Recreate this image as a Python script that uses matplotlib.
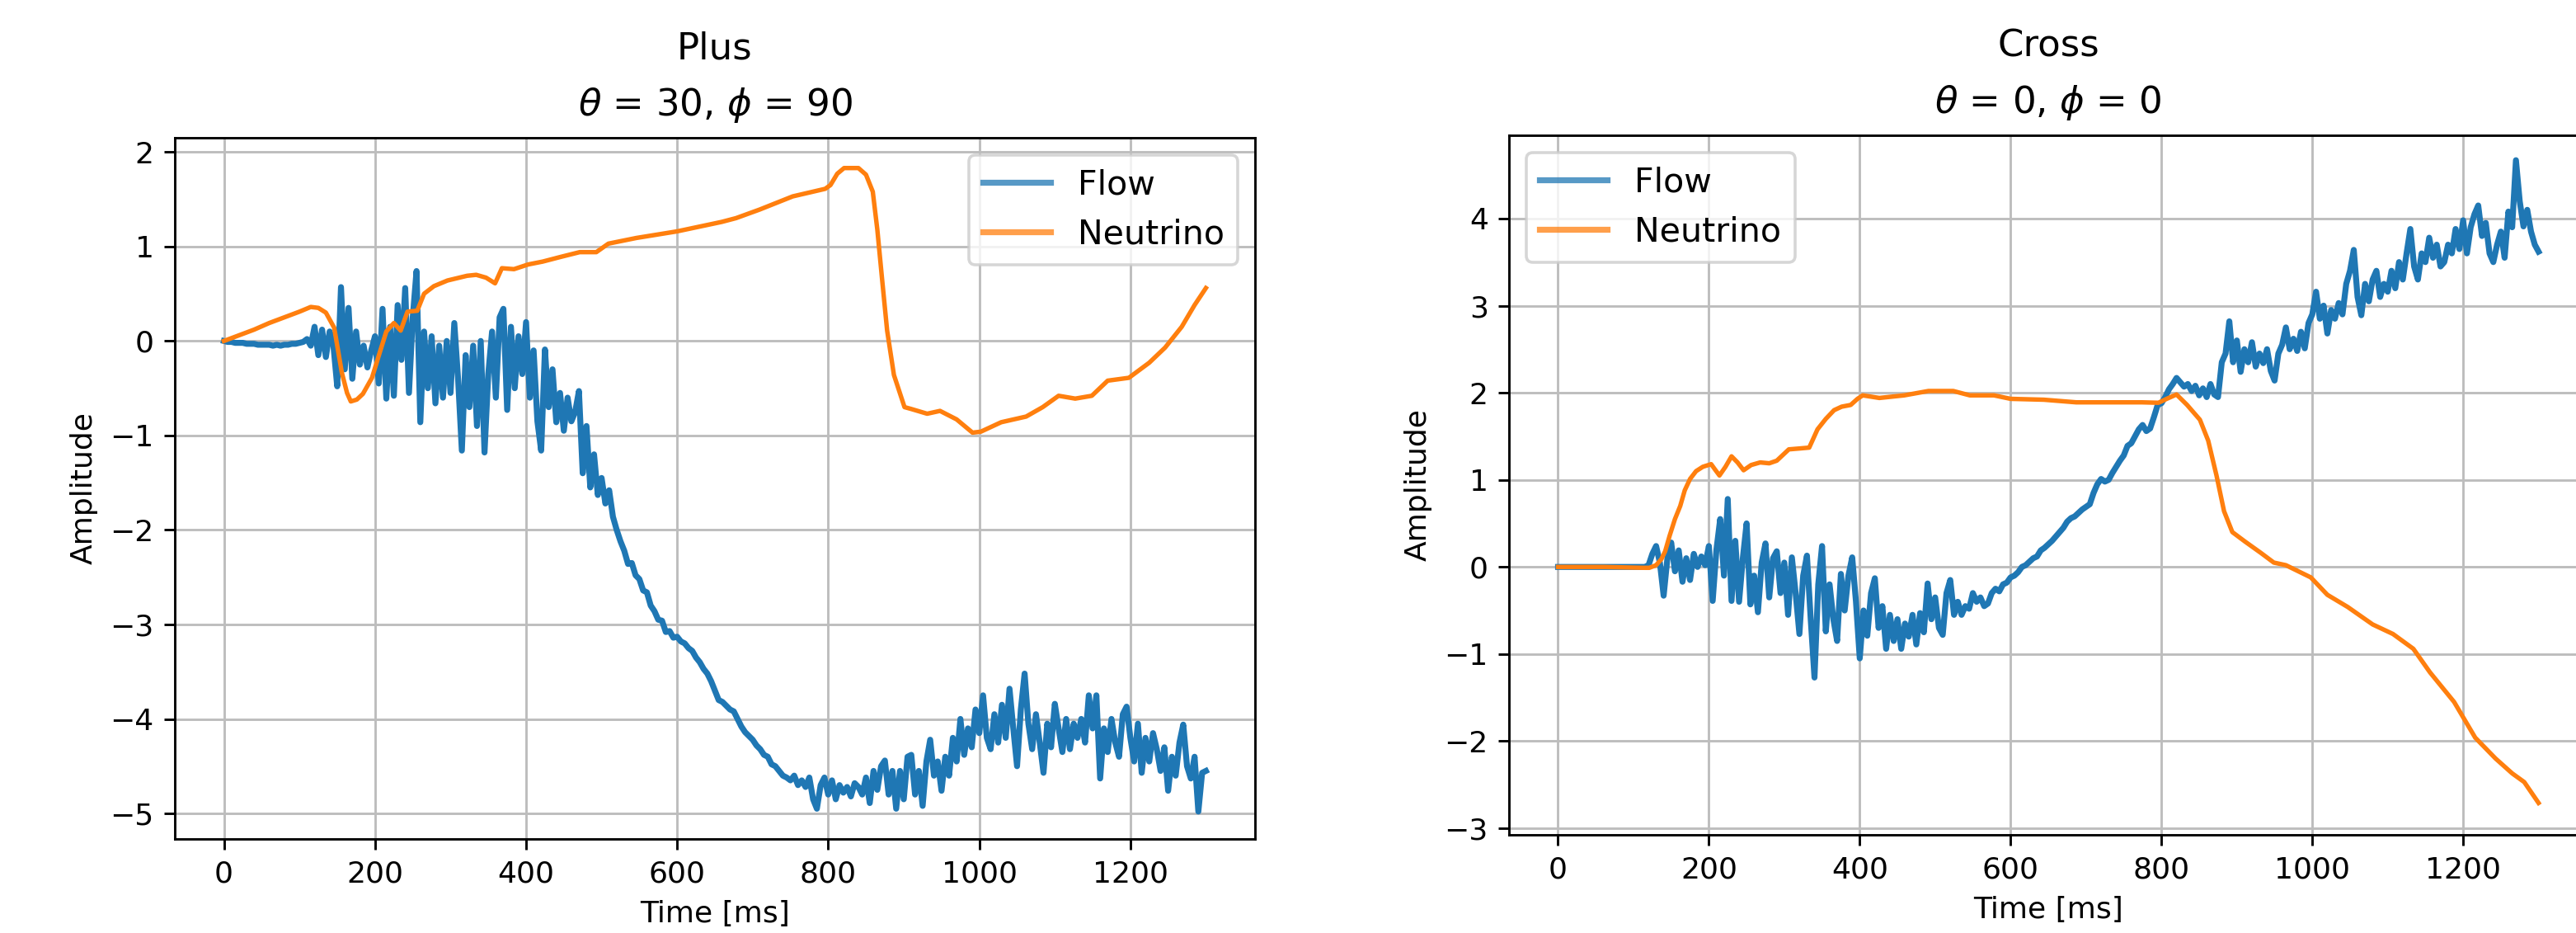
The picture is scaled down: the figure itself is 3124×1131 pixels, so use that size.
import numpy as np
import matplotlib
matplotlib.use("Agg")
import matplotlib.pyplot as plt

# ---------------- data ----------------
t_flow = np.arange(0, 1301, 5)  # ms

flow_plus = [
    # 0-95
    0.00, -0.01, -0.01, -0.02, -0.02, -0.02, -0.03, -0.03, -0.03, -0.04,
    -0.04, -0.04, -0.04, -0.05, -0.04, -0.05, -0.04, -0.04, -0.03, -0.03,
    # 100-195
    -0.02, -0.01, 0.02, -0.05, 0.15, -0.15, 0.12, -0.17, 0.10, -0.05,
    -0.48, 0.57, -0.30, 0.35, -0.40, 0.10, -0.25, -0.05, -0.28, -0.10,
    # 200-295
    0.05, -0.45, 0.34, -0.61, 0.15, -0.58, 0.38, -0.20, 0.56, -0.55,
    0.25, 0.74, -0.86, 0.10, -0.50, 0.05, -0.66, -0.05, -0.60, 0.00,
    # 300-395
    -0.55, 0.19, -0.40, -1.16, -0.15, -0.70, -0.05, -0.90, 0.00, -1.18,
    -0.35, 0.10, -0.60, 0.25, 0.34, -0.73, 0.15, -0.50, 0.05, -0.35,
    # 400-495
    0.20, -0.60, -0.10, -0.85, -1.16, -0.09, -0.70, -0.30, -0.86, -0.55,
    -0.95, -0.60, -0.85, -0.75, -0.53, -1.40, -0.90, -1.55, -1.20, -1.63,
    # 500-595
    -1.45, -1.72, -1.58, -1.86, -2.00, -2.12, -2.22, -2.36, -2.35, -2.48,
    -2.52, -2.64, -2.66, -2.80, -2.86, -2.95, -2.96, -3.08, -3.07, -3.14,
    # 600-695
    -3.13, -3.18, -3.20, -3.25, -3.28, -3.35, -3.40, -3.47, -3.52, -3.60,
    -3.70, -3.80, -3.82, -3.86, -3.90, -3.92, -4.00, -4.08, -4.14, -4.18,
    # 700-795
    -4.22, -4.28, -4.32, -4.38, -4.40, -4.48, -4.50, -4.55, -4.60, -4.62,
    -4.65, -4.60, -4.70, -4.65, -4.72, -4.62, -4.85, -4.95, -4.70, -4.62,
    # 800-895
    -4.80, -4.65, -4.85, -4.70, -4.78, -4.72, -4.82, -4.68, -4.72, -4.80,
    -4.62, -4.89, -4.55, -4.75, -4.50, -4.44, -4.80, -4.55, -4.95, -4.55,
    # 900-995
    -4.85, -4.40, -4.38, -4.80, -4.55, -4.92, -4.45, -4.22, -4.60, -4.45,
    -4.76, -4.40, -4.60, -4.20, -4.45, -4.00, -4.38, -4.10, -4.30, -3.90,
    # 1000-1095
    -4.15, -3.75, -4.20, -4.32, -3.95, -4.25, -3.85, -4.20, -3.68, -4.10,
    -4.50, -3.90, -3.52, -4.05, -4.32, -3.95, -4.25, -4.57, -4.05, -4.30,
    # 1100-1195
    -3.84, -4.10, -4.35, -4.00, -4.32, -4.05, -4.20, -4.00, -4.25, -3.75,
    -4.10, -3.75, -4.63, -4.10, -4.35, -4.00, -4.25, -4.40, -3.95, -3.87,
    # 1200-1300
    -4.20, -4.45, -4.05, -4.57, -4.20, -4.45, -4.15, -4.32, -4.55, -4.30,
    -4.76, -4.40, -4.60, -4.25, -4.06, -4.50, -4.63, -4.40, -4.98, -4.57,
    -4.55,
]

t_nu_plus = [0, 20, 40, 60, 80, 100, 115, 125, 135, 146, 156, 163, 168, 176, 184,
             196, 206, 215, 225, 234, 243, 256, 265, 278, 296, 322, 334, 347, 359,
             368, 384, 403, 422, 446, 471, 493, 509, 546, 600, 659, 678, 709, 753,
             796, 803, 812, 821, 840, 850, 859, 865, 871, 878, 887, 901, 910, 931,
             948, 970, 991, 1002, 1029, 1062, 1084, 1105, 1127, 1149, 1170, 1198,
             1225, 1246, 1268, 1285, 1300]
nu_plus = [0.00, 0.06, 0.12, 0.19, 0.25, 0.31, 0.36, 0.35, 0.30, 0.14, -0.33, -0.55,
           -0.64, -0.62, -0.56, -0.39, -0.13, 0.10, 0.19, 0.11, 0.31, 0.32, 0.50,
           0.58, 0.64, 0.69, 0.70, 0.67, 0.61, 0.77, 0.76, 0.81, 0.84, 0.89, 0.94,
           0.94, 1.03, 1.09, 1.16, 1.26, 1.30, 1.39, 1.53, 1.61, 1.65, 1.77, 1.83,
           1.83, 1.76, 1.58, 1.18, 0.68, 0.11, -0.36, -0.70, -0.72, -0.77, -0.74,
           -0.83, -0.97, -0.96, -0.86, -0.80, -0.70, -0.58, -0.61, -0.58, -0.42,
           -0.39, -0.23, -0.07, 0.15, 0.38, 0.56]

flow_cross = [
    # 0-115
    0.00, 0.00, 0.00, 0.00, 0.00, 0.00, 0.00, 0.00, 0.00, 0.00,
    0.00, 0.00, 0.00, 0.00, 0.00, 0.00, 0.00, 0.00, 0.00, 0.00,
    0.00, 0.00, 0.00, 0.00,
    # 120-195
    0.02, 0.15, 0.24, 0.05, -0.33, 0.10, 0.28, -0.05, 0.19, -0.17,
    0.10, -0.15, 0.15, 0.00, 0.12, 0.02,
    # 200-295
    0.24, -0.39, 0.20, 0.55, -0.10, 0.78, -0.39, 0.30, -0.40, 0.10,
    0.50, -0.43, -0.10, -0.52, 0.05, 0.27, -0.35, 0.10, 0.18, -0.30,
    # 300-395
    0.05, -0.55, 0.11, -0.30, -0.77, -0.10, 0.13, -0.60, -1.27, -0.20,
    0.24, -0.74, -0.20, -0.60, -0.85, -0.08, -0.50, -0.10, 0.11, -0.40,
    # 400-495
    -1.05, -0.50, -0.79, -0.30, -0.13, -0.70, -0.45, -0.94, -0.55, -0.85,
    -0.60, -0.94, -0.65, -0.80, -0.55, -0.89, -0.53, -0.75, -0.19, -0.60,
    # 500-595
    -0.35, -0.70, -0.78, -0.30, -0.15, -0.55, -0.40, -0.55, -0.45, -0.48,
    -0.30, -0.40, -0.35, -0.45, -0.42, -0.30, -0.25, -0.28, -0.20, -0.18,
    # 600-695
    -0.12, -0.10, -0.06, 0.00, 0.02, 0.06, 0.10, 0.12, 0.19, 0.22,
    0.26, 0.30, 0.35, 0.40, 0.45, 0.52, 0.56, 0.58, 0.62, 0.66,
    # 700-795
    0.69, 0.72, 0.85, 0.95, 1.01, 0.98, 1.00, 1.08, 1.15, 1.22,
    1.28, 1.39, 1.42, 1.50, 1.58, 1.63, 1.56, 1.59, 1.72, 1.86,
    # 800-895
    1.88, 1.95, 2.04, 2.10, 2.17, 2.12, 2.07, 2.10, 2.02, 2.08,
    1.97, 2.05, 1.95, 2.10, 1.98, 1.95, 2.35, 2.45, 2.82, 2.35,
    # 900-995
    2.60, 2.24, 2.50, 2.35, 2.58, 2.30, 2.45, 2.34, 2.50, 2.25,
    2.14, 2.45, 2.55, 2.75, 2.50, 2.62, 2.48, 2.70, 2.51, 2.80,
    # 1000-1095
    2.90, 3.16, 2.85, 3.00, 2.68, 2.95, 2.85, 3.03, 2.90, 3.25,
    3.40, 3.64, 3.10, 2.89, 3.25, 3.05, 3.30, 3.40, 3.10, 3.25,
    # 1100-1195
    3.16, 3.40, 3.20, 3.50, 3.30, 3.60, 3.88, 3.45, 3.30, 3.60,
    3.50, 3.78, 3.55, 3.70, 3.45, 3.50, 3.70, 3.60, 3.88, 3.65,
    # 1200-1300
    3.98, 3.60, 3.90, 4.05, 4.15, 3.80, 3.95, 3.60, 3.50, 3.70,
    3.85, 3.55, 4.08, 3.90, 4.67, 4.20, 3.91, 4.10, 3.85, 3.70,
    3.62,
]

t_nu_cross = [0, 60, 115, 121, 130, 137, 142, 148, 155, 162, 168, 175, 183, 192, 203,
              208, 214, 222, 230, 238, 246, 256, 268, 280, 290, 306, 320, 333, 344,
              355, 366, 376, 388, 397, 404, 426, 459, 491, 524, 546, 578, 600, 644,
              687, 731, 774, 796, 807, 820, 834, 851, 862, 873, 883, 894, 911, 932,
              949, 965, 998, 1020, 1047, 1080, 1107, 1134, 1156, 1188, 1216, 1243,
              1265, 1281, 1300]
nu_cross = [0.00, 0.00, -0.01, -0.01, 0.02, 0.09, 0.18, 0.36, 0.55, 0.70, 0.88, 1.01,
            1.10, 1.15, 1.18, 1.12, 1.05, 1.15, 1.27, 1.20, 1.11, 1.17, 1.20, 1.19,
            1.22, 1.35, 1.36, 1.37, 1.58, 1.70, 1.80, 1.84, 1.86, 1.93, 1.97, 1.94,
            1.97, 2.02, 2.02, 1.97, 1.97, 1.93, 1.92, 1.89, 1.89, 1.89, 1.885, 1.93,
            1.98, 1.86, 1.69, 1.45, 1.05, 0.64, 0.40, 0.29, 0.16, 0.05, 0.02, -0.12,
            -0.32, -0.46, -0.66, -0.77, -0.94, -1.21, -1.55, -1.96, -2.20, -2.37,
            -2.47, -2.71]

titles = ["Plus\n$\\theta$ = 30, $\\phi$ = 90", "Cross\n$\\theta$ = 0, $\\phi$ = 0"]
series_labels = ["Flow", "Neutrino"]
xlabel = "Time [ms]"
ylabel = "Amplitude"

# ---------------- figure ----------------
DPI = 260
fig = plt.figure(figsize=(3124 / DPI, 1131 / DPI), dpi=DPI)
ax1 = fig.add_axes([0.06786, 0.1008, 0.41933, 0.7515])
ax2 = fig.add_axes([0.5858, 0.1052, 0.4187, 0.7498])

panels = [
    (ax1, flow_plus, t_nu_plus, nu_plus, titles[0], "upper right"),
    (ax2, flow_cross, t_nu_cross, nu_cross, titles[1], "upper left"),
]

for ax, fl, tn, nu, title, loc in panels:
    ax.plot(t_flow, fl, color="#1f77b4", lw=2.0, label=series_labels[0])
    ax.plot(tn, nu, color="#ff7f0e", lw=1.5, label=series_labels[1])
    ax.grid(True, color="#bdbdbd", lw=0.8)
    ax.set_axisbelow(True)
    ax.set_title(title, fontsize=12.5, linespacing=1.65, pad=7.5)
    ax.set_xlabel(xlabel, fontsize=10)
    ax.set_ylabel(ylabel, fontsize=10)
    ax.tick_params(labelsize=10)
    ax.set_xticks([0, 200, 400, 600, 800, 1000, 1200])
    leg = ax.legend(loc=loc, fontsize=11.4)
    for h in leg.legend_handles:
        h.set_alpha(0.75)
        h.set_linewidth(2.0)

ax1.set_xlim(-65, 1365)
ax1.set_ylim(-5.27, 2.15)
ax1.set_yticks([-5, -4, -3, -2, -1, 0, 1, 2])
ax2.set_xlim(-65, 1365)
ax2.set_ylim(-3.076, 4.956)
ax2.set_yticks([-3, -2, -1, 0, 1, 2, 3, 4])

fig.savefig("out.png", dpi=DPI)
